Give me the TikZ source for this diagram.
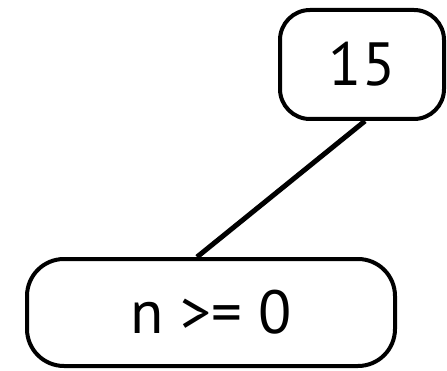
\documentclass[tikz,border=0pt]{standalone}
\usepackage{fontspec}
\setmainfont{PT Sans}
\begin{document}
\begin{tikzpicture}[x=1pt,y=1pt,
  box/.style={draw, line width=4pt, rounded corners=#1, inner sep=0pt, font=\fontsize{61}{63}\selectfont},
  conn/.style={line width=5pt}]
\useasboundingbox (0,0) rectangle (447,370);
\node[box=30pt, minimum width=164pt, minimum height=109pt] (top) at (362,305.5) {15};
\node[box=37pt, minimum width=368pt, minimum height=107pt] (bot) at (211,57.5) {n >= 0};
\draw[conn] ([xshift=3pt]top.south) -- ([xshift=-14pt]bot.north);
\end{tikzpicture}
\end{document}
